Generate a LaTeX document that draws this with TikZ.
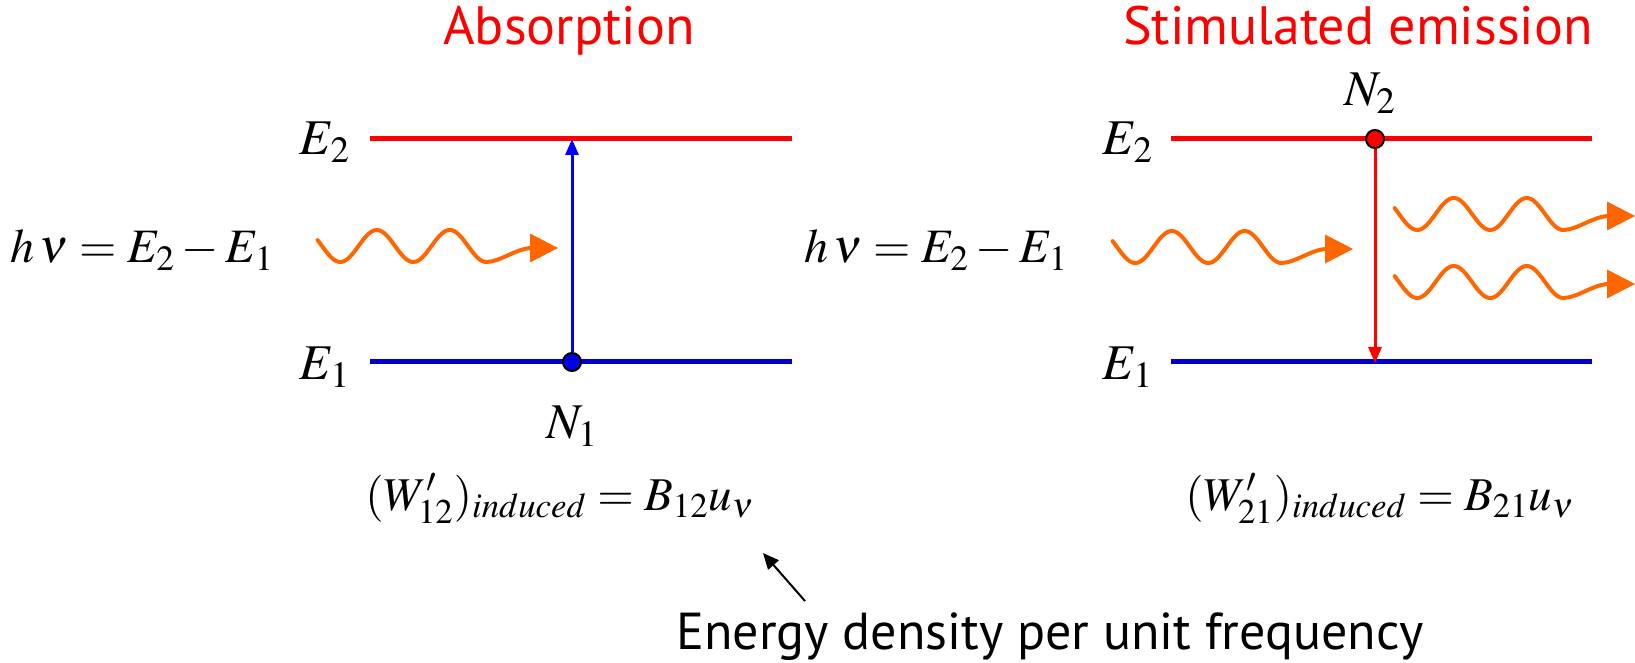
\documentclass[tikz,border=0pt]{standalone}
\usepackage{mathptmx}
\usepackage{fontspec}
\setmainfont{Liberation Serif}
\setsansfont{PT Sans}
\usetikzlibrary{arrows.meta}
\definecolor{redc}{RGB}{255,0,0}
\definecolor{bluec}{RGB}{0,0,204}
\definecolor{bluedot}{RGB}{0,0,230}
\definecolor{orangec}{RGB}{255,102,0}
\tikzset{
  level/.style={line width=2.5pt},
  transarrow/.style={line width=1.5pt,-{Triangle[length=8pt,width=6.5pt]}},
  popdot/.style={circle,draw=black,line width=1pt,minimum size=9pt,inner sep=0pt},
  title/.style={font=\sffamily\fontsize{27}{32}\selectfont,text=redc,anchor=base},
  lab/.style={font=\fontsize{25}{30}\selectfont,anchor=base,inner sep=0pt},
  wavestyle/.style={draw=orangec,line width=2pt,line cap=round},
  photon/.pic={
    \draw[wavestyle] plot[domain=-0.06:2.25,samples=80,smooth] ({\x*73},{16*sin(\x*360)})
      .. controls (178,16) and (195,2) .. (210,2);
    \fill[orangec] (236,2) -- (208,-12.5) -- (208,16.5) -- cycle;
  }
}
\begin{document}
\begin{tikzpicture}[x=0.5pt,y=-0.5pt]
\useasboundingbox (0,0) rectangle (1635,663);
% titles
\node[title] (t1) at (569,45) {Absorption};
\node[title] (t2) at (1358,45) {Stimulated emission};
% left levels
\coordinate (LE2a) at (370,139); \coordinate (LE2b) at (792,139);
\coordinate (LE1a) at (370,362); \coordinate (LE1b) at (792,362);
\draw[level,redc] (LE2a) -- (LE2b);
\draw[level,bluec] (LE1a) -- (LE1b);
% right levels
\coordinate (RE2a) at (1171,139); \coordinate (RE2b) at (1592,139);
\coordinate (RE1a) at (1171,362); \coordinate (RE1b) at (1592,362);
\draw[level,redc] (RE2a) -- (RE2b);
\draw[level,bluec] (RE1a) -- (RE1b);
% population dots
\node[popdot,fill=bluedot] (N1dot) at (572,362) {};
\node[popdot,fill=redc] (N2dot) at (1375,139) {};
\coordinate (N1top) at (572,139);
\coordinate (N2bot) at (1375,363);
\draw[transarrow,blue] (N1dot) -- (N1top);
\draw[transarrow,redc] (N2dot) -- (N2bot);
% level labels
\node[lab] (lE2) at (325,155) {$E_2$};
\node[lab] (lE1) at (325,380) {$E_1$};
\node[lab] (rE2) at (1128,155) {$E_2$};
\node[lab] (rE1) at (1128,380) {$E_1$};
\node[lab] (N1) at (572,439) {$N_1$};
\node[lab] (N2) at (1370,106) {$N_2$};
% photon energy
\node[lab,font=\fontsize{24}{29}\selectfont] (hv1) at (142,263) {$h\,\nu = E_2 - E_1$};
\node[lab,font=\fontsize{24}{29}\selectfont] (hv2) at (936,263) {$h\,\nu = E_2 - E_1$};
% photons
\pic at (322,246) {photon};
\pic at (1117,247) {photon};
\pic at (1399,214) {photon};
\pic at (1399,282) {photon};
% rates
\node[lab,anchor=base west,font=\fontsize{23.5}{28}\selectfont] (w12) at (365,510) {$(W'_{12})_{induced} = B_{12}u_\nu$};
\node[lab,anchor=base west,font=\fontsize{23.5}{28}\selectfont] (w21) at (1185,510) {$(W'_{21})_{induced} = B_{21}u_\nu$};
% energy density note
\node[font=\sffamily\fontsize{26}{31}\selectfont,anchor=base west,inner sep=0pt] (ed) at (676,649) {Energy density per unit frequency};
\coordinate (edtop) at (805,601);
\coordinate (unu) at (763,553);
\draw[line width=1pt,-{Triangle[length=8pt,width=7pt]}] (edtop) -- (unu);
\end{tikzpicture}
\end{document}
